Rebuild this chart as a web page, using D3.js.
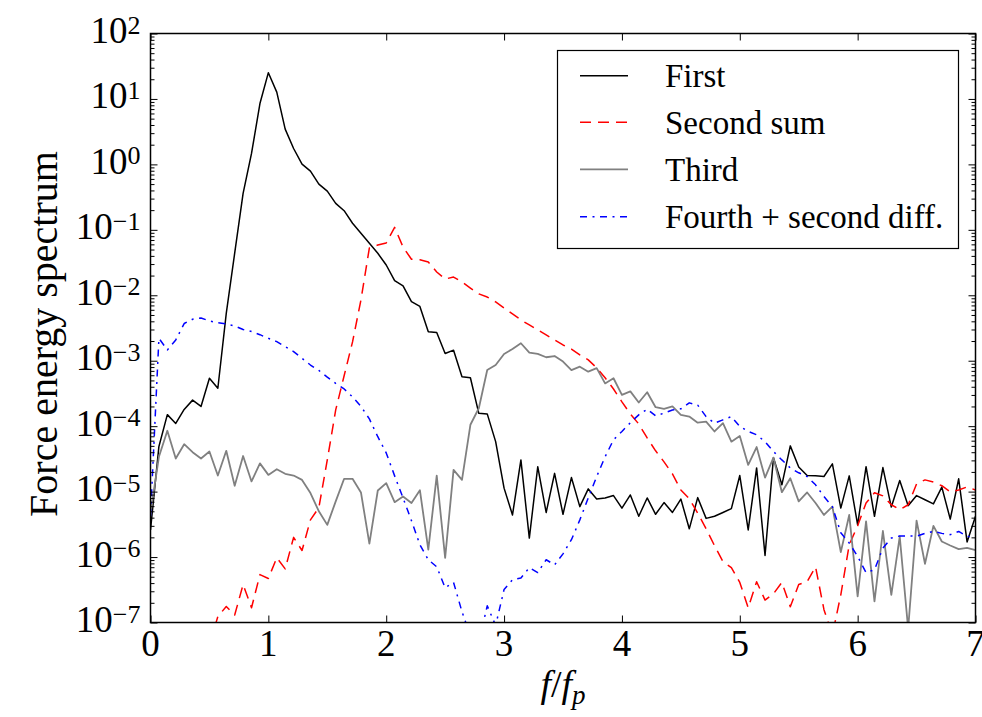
<!DOCTYPE html>
<html>
<head>
<meta charset="utf-8">
<script src="https://cdn.jsdelivr.net/npm/d3@7"></script>
</head>
<body style="margin:0;background:#fff">
<svg id="chart" width="982" height="717" style="display:block"></svg>
<script>
// Frequency grid spacing, in units of the peak frequency f_p (99 samples over 0..7)
const freqStep = 1 / 14;

// Force energy spectra, one value per frequency sample
const first = [
  2.6e-6, 4.9e-5, 1.5e-4, 1.1e-4, 1.8e-4, 2.5e-4, 2.0e-4, 5.4e-4, 3.8e-4, 5.3e-3,
  4.4e-2, 0.36, 1.47, 8.5, 25.2, 12.7, 3.46, 1.75, 1.01, 0.79,
  0.50, 0.39, 0.254, 0.196, 0.126, 0.0885, 0.0622, 0.0438, 0.029, 0.0167,
  0.0139, 0.008, 0.00675, 0.00278, 0.0027, 0.00129, 0.00145, 5.7e-4, 5.5e-4, 1.57e-4,
  1.54e-4, 5.8e-5, 1.13e-5, 4.4e-6, 3.05e-5, 1.95e-6, 2.4e-5, 4.8e-6, 1.9e-5, 4.5e-6,
  1.64e-5, 5.9e-6, 1.1e-5, 7.7e-6, 8.0e-6, 8.7e-6, 5.6e-6, 8.9e-6, 4.2e-6, 8.0e-6,
  4.5e-6, 6.8e-6, 4.8e-6, 7.7e-6, 2.7e-6, 8.1e-6, 3.9e-6, 4.2e-6, 4.8e-6, 5.5e-6,
  1.76e-5, 2.6e-6, 2.3e-5, 1.06e-6, 3.3e-5, 1.27e-5, 5.0e-5, 2.37e-5, 1.76e-5, 1.74e-5,
  1.7e-5, 2.65e-5, 5.6e-6, 1.74e-5, 3.1e-6, 2.4e-5, 4.2e-6, 2.33e-5, 5.8e-6, 1.48e-5,
  6.1e-6, 8.7e-6, 7.5e-6, 6.5e-6, 1.17e-5, 3.8e-6, 1.57e-5, 1.7e-6, 4.2e-6
];

const secondSum = [
  null, null, null, null, null, null, null, 4.6e-8, 1.23e-7, 1.76e-7,
  1.3e-7, 3.8e-7, 1.68e-7, 5.4e-7, 4.7e-7, 9.8e-7, 6.6e-7, 2.0e-6, 1.26e-6, 3.7e-6,
  5.7e-6, 3.05e-5, 1.77e-4, 5.9e-4, 1.94e-3, 8.5e-3, 0.053, 0.0586, 0.0629, 0.109,
  0.0546, 0.0355, 0.035, 0.0322, 0.0227, 0.0177, 0.019, 0.016, 0.0129, 0.0105,
  0.0094, 0.0079, 0.0064, 0.0052, 0.0042, 0.00352, 0.00295, 0.00248, 0.00208, 0.00174,
  0.00151, 0.00123, 0.00103, 7.8e-4, 5.5e-4, 3.7e-4, 2.35e-4, 1.54e-4, 1.08e-4, 6.6e-5,
  4.2e-5, 2.85e-5, 1.87e-5, 1.06e-5, 7.8e-6, 4.7e-6, 2.7e-6, 1.49e-6, 8.5e-7, 6.9e-7,
  4.1e-7, 1.68e-7, 4.2e-7, 2.2e-7, 2.75e-7, 4.1e-7, 1.74e-7, 3.8e-7, 4.2e-7, 7.1e-7,
  1.57e-7, 6.5e-8, 2.65e-7, 1.54e-6, 3.0e-6, 6.7e-6, 9.6e-6, 8.6e-6, 6.3e-6, 5.3e-6,
  6.3e-6, 1.31e-5, 1.51e-5, 1.4e-5, 1.23e-5, 9.9e-6, 1.06e-5, 1.18e-5, 1.06e-5
];

const third = [
  4.7e-6, 3.4e-5, 8.5e-5, 3.2e-5, 5.3e-5, 4.0e-5, 3.2e-5, 4.1e-5, 1.76e-5, 4.2e-5,
  1.23e-5, 3.5e-5, 1.43e-5, 2.7e-5, 1.8e-5, 2.2e-5, 1.87e-5, 1.76e-5, 1.51e-5, 9.5e-6,
  5.0e-6, 3.1e-6, 7.1e-6, 1.57e-5, 1.57e-5, 9.7e-6, 1.6e-6, 1.04e-5, 1.35e-5, 6.9e-6,
  8.4e-6, 6.7e-6, 1.05e-5, 1.3e-6, 1.76e-5, 9.7e-7, 2.15e-5, 1.51e-5, 1.05e-4, 1.88e-4,
  7.2e-4, 8.6e-4, 1.27e-3, 1.51e-3, 1.85e-3, 1.33e-3, 1.27e-3, 1.13e-3, 1.18e-3, 9.7e-4,
  7.2e-4, 8.1e-4, 6.8e-4, 7.7e-4, 4.5e-4, 5.4e-4, 3.0e-4, 3.4e-4, 2.3e-4, 3.3e-4,
  1.95e-4, 1.84e-4, 2.0e-4, 1.49e-4, 1.4e-4, 1.13e-4, 1.17e-4, 8.3e-5, 1.11e-4, 5.8e-5,
  7.1e-5, 2.56e-5, 4.8e-5, 1.64e-5, 3.3e-5, 9.8e-6, 1.6e-5, 7.1e-6, 9.7e-6, 6.7e-6,
  4.4e-6, 5.9e-6, 1.19e-6, 4.4e-6, 2.5e-7, 3.5e-6, 2.1e-7, 2.5e-6, 2.65e-7, 2.06e-6,
  8e-8, 3.6e-6, 7.9e-7, 3.0e-6, 1.73e-6, 1.5e-6, 1.32e-6, 1.38e-6, 1.28e-6
];

const fourthSecondDiff = [
  4.2e-6, 2.2e-3, 1.46e-3, 2.08e-3, 3.7e-3, 4.3e-3, 4.5e-3, 4.05e-3, 3.8e-3, 3.65e-3,
  3.4e-3, 3.0e-3, 2.8e-3, 2.5e-3, 2.2e-3, 1.96e-3, 1.64e-3, 1.38e-3, 1.09e-3, 8.6e-4,
  7.1e-4, 5.6e-4, 4.5e-4, 3.7e-4, 2.8e-4, 2.0e-4, 1.29e-4, 6.9e-5, 3.9e-5, 1.74e-5,
  8.0e-6, 3.6e-6, 1.54e-6, 9.1e-7, 7.1e-7, 3.4e-7, 4.1e-7, 1.46e-7, 6.3e-8, 5e-8,
  1.8e-7, 9e-8, 3.2e-7, 4.5e-7, 4.8e-7, 6.9e-7, 5.8e-7, 9.1e-7, 7.6e-7, 1.12e-6,
  1.84e-6, 3.7e-6, 8.0e-6, 1.7e-5, 3.4e-5, 6.2e-5, 8.3e-5, 1.13e-4, 1.49e-4, 1.82e-4,
  1.44e-4, 1.58e-4, 1.77e-4, 1.84e-4, 2.27e-4, 2.1e-4, 1.4e-4, 1.11e-4, 1.25e-4, 1.4e-4,
  9.9e-5, 8.3e-5, 7.4e-5, 5.8e-5, 4.1e-5, 3.05e-5, 2.3e-5, 1.94e-5, 1.7e-5, 1.27e-5,
  8.4e-6, 5.9e-6, 2.35e-6, 1.64e-6, 1.02e-6, 5.8e-7, 6.4e-7, 1.37e-6, 1.95e-6, 2.1e-6,
  2.1e-6, 2.08e-6, 2.3e-6, 2.46e-6, 2.3e-6, 2.2e-6, 2.46e-6, 2.08e-6, 1.95e-6
];

const seriesNames = ["First", "Second sum", "Third", "Fourth + second diff."];
const xTickValues = [0, 1, 2, 3, 4, 5, 6, 7];
const yExponents = [-7, -6, -5, -4, -3, -2, -1, 0, 1, 2];

// ---- layout ----
const serifFont = '"Liberation Serif"';
const plot = { left: 150.5, right: 975.5, top: 33.5, bottom: 622.5 };
const svg = d3.select("#chart");

const x = d3.scaleLinear().domain([0, 7]).range([plot.left, plot.right]);
const y = d3.scaleLog().domain([1e-7, 1e2]).range([plot.bottom, plot.top]);

const freq = first.map((_, i) => i * freqStep);

const styles = [
  { color: "#000000", dash: null, width: 1.5 },
  { color: "#ff0000", dash: "11,7", width: 1.5 },
  { color: "#808080", dash: null, width: 1.8 },
  { color: "#0000ff", dash: "7,5.5,2,5.5", width: 1.5 }
];
const allSeries = [first, secondSum, third, fourthSecondDiff];

// clip region for the data
svg.append("defs").append("clipPath").attr("id", "plotClip")
  .append("rect")
  .attr("x", plot.left).attr("y", plot.top)
  .attr("width", plot.right - plot.left).attr("height", plot.bottom - plot.top);

// ---- spectra ----
const line = d3.line()
  .defined(d => d.v != null)
  .x(d => x(d.f))
  .y(d => y(d.v));

const lines = svg.append("g").attr("clip-path", "url(#plotClip)");
allSeries.forEach((vals, s) => {
  const pts = vals.map((v, i) => ({ f: freq[i], v }));
  lines.append("path")
    .datum(pts)
    .attr("d", line)
    .attr("fill", "none")
    .attr("stroke", styles[s].color)
    .attr("stroke-width", styles[s].width)
    .attr("stroke-dasharray", styles[s].dash)
    .attr("stroke-linejoin", "round");
});

// ---- axes (inward ticks on all four sides) ----
const majorY = yExponents.map(e => Math.pow(10, e));
const minorY = [];
yExponents.slice(0, -1).forEach(e => {
  for (let m = 2; m <= 9; m++) minorY.push(m * Math.pow(10, e));
});

function styleAxis(g) {
  g.select(".domain").remove();
  g.selectAll(".tick line").attr("stroke", "#000").attr("stroke-width", 1);
  g.selectAll(".tick text").remove();
}

svg.append("g").attr("transform", `translate(0,${plot.bottom})`)
  .call(d3.axisBottom(x).tickValues(xTickValues).tickSize(-7).tickFormat(""))
  .call(styleAxis);
svg.append("g").attr("transform", `translate(0,${plot.top})`)
  .call(d3.axisTop(x).tickValues(xTickValues).tickSize(-7).tickFormat(""))
  .call(styleAxis);
svg.append("g").attr("transform", `translate(${plot.left},0)`)
  .call(d3.axisLeft(y).tickValues(majorY).tickSize(-7).tickFormat(""))
  .call(styleAxis);
svg.append("g").attr("transform", `translate(${plot.left},0)`)
  .call(d3.axisLeft(y).tickValues(minorY).tickSize(-4).tickFormat(""))
  .call(styleAxis);
svg.append("g").attr("transform", `translate(${plot.right},0)`)
  .call(d3.axisRight(y).tickValues(majorY).tickSize(-7).tickFormat(""))
  .call(styleAxis);
svg.append("g").attr("transform", `translate(${plot.right},0)`)
  .call(d3.axisRight(y).tickValues(minorY).tickSize(-4).tickFormat(""))
  .call(styleAxis);

// frame
svg.append("rect")
  .attr("x", plot.left).attr("y", plot.top)
  .attr("width", plot.right - plot.left).attr("height", plot.bottom - plot.top)
  .attr("fill", "none").attr("stroke", "#000").attr("stroke-width", 1.5);

// all labels are appended to this group so they share one font
const labels = svg.append("g");

// ---- tick labels ----
const yLab = labels.selectAll("text.ylab").data(yExponents).join("text")
  .attr("class", "ylab")
  .attr("x", plot.left - 10)
  .attr("y", e => y(Math.pow(10, e)) + 9.5)
  .attr("text-anchor", "end")
  .attr("font-size", 37);
yLab.append("tspan").text("10");
yLab.append("tspan")
  .attr("dy", -9.5)
  .attr("font-size", 26)
  .text(e => (e < 0 ? "\u2212" + Math.abs(e) : String(e)));

labels.selectAll("text.xlab").data(xTickValues).join("text")
  .attr("class", "xlab")
  .attr("x", d => x(d))
  .attr("y", 656)
  .attr("text-anchor", "middle")
  .attr("font-size", 37)
  .text(d => d);

// ---- axis titles ----
const xt = labels.append("text")
  .attr("x", (plot.left + plot.right) / 2)
  .attr("y", 697)
  .attr("text-anchor", "middle")
  .attr("font-size", 38);
xt.append("tspan").attr("font-style", "italic").text("f");
xt.append("tspan").text("/");
xt.append("tspan").attr("font-style", "italic").text("f");
xt.append("tspan").attr("font-style", "italic").attr("font-size", 27).attr("dy", 7).text("p");

labels.append("text")
  .attr("transform", `translate(57,${(plot.top + plot.bottom) / 2 + 6}) rotate(-90)`)
  .attr("text-anchor", "middle")
  .attr("font-size", 40)
  .text("Force energy spectrum");

// ---- legend ----
labels.append("rect")
  .attr("x", 557.5).attr("y", 50.5).attr("width", 401).attr("height", 198)
  .attr("fill", "#fff").attr("stroke", "#000").attr("stroke-width", 1.2);
const rowY = [75.7, 122.3, 169.3, 216.7];
seriesNames.forEach((name, s) => {
  labels.append("line")
    .attr("x1", 580).attr("x2", 628)
    .attr("y1", rowY[s]).attr("y2", rowY[s])
    .attr("stroke", styles[s].color)
    .attr("stroke-width", styles[s].width)
    .attr("stroke-dasharray", styles[s].dash);
  labels.append("text")
    .attr("x", 665).attr("y", rowY[s] + 11.5)
    .attr("font-size", 33)
    .text(name);
});

// serif face for every label
labels.selectAll("text").style("font-family", d => serifFont);
</script>
</body>
</html>
